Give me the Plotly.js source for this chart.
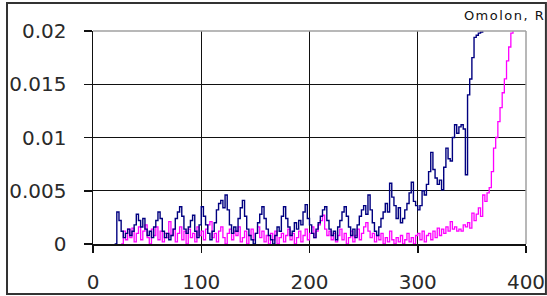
<!DOCTYPE html>
<html>
<head>
<meta charset="utf-8">
<script src="https://cdn.plot.ly/plotly-3.0.1.min.js"></script>
<style>
html,body{margin:0;padding:0;background:#fff;}
#chart{width:547px;height:296px;}
.gtitle{letter-spacing:1.5px;}
</style>
</head>
<body>
<div id="chart"></div>
<script>
// Sampling of the series along the x axis
const navyStartX = 20;
const magentaStartX = 26;
const sampleStep = 2;

// Navy series values (x = 20, 22, 24, ...)
const navyValues = [
  0.0000, 0.0030, 0.0022, 0.0012, 0.0006, 0.0010, 0.0014, 0.0008, 0.0012, 0.0018,
  0.0028, 0.0022, 0.0016, 0.0024, 0.0014, 0.0008, 0.0012, 0.0006, 0.0016, 0.0022,
  0.0030, 0.0024, 0.0012, 0.0006, 0.0010, 0.0004, 0.0008, 0.0014, 0.0024, 0.0030,
  0.0035, 0.0026, 0.0014, 0.0010, 0.0016, 0.0022, 0.0027, 0.0012, 0.0006, 0.0018,
  0.0035, 0.0026, 0.0018, 0.0010, 0.0004, 0.0012, 0.0020, 0.0032, 0.0038, 0.0041,
  0.0034, 0.0046, 0.0032, 0.0018, 0.0010, 0.0016, 0.0012, 0.0024, 0.0034, 0.0041,
  0.0026, 0.0014, 0.0008, 0.0004, 0.0000, 0.0010, 0.0020, 0.0028, 0.0035, 0.0024,
  0.0014, 0.0008, 0.0004, 0.0000, 0.0008, 0.0016, 0.0012, 0.0026, 0.0035, 0.0024,
  0.0016, 0.0008, 0.0012, 0.0020, 0.0014, 0.0022, 0.0018, 0.0030, 0.0037, 0.0024,
  0.0018, 0.0010, 0.0006, 0.0014, 0.0020, 0.0026, 0.0032, 0.0035, 0.0022, 0.0014,
  0.0008, 0.0012, 0.0004, 0.0016, 0.0022, 0.0030, 0.0035, 0.0026, 0.0016, 0.0008,
  0.0014, 0.0006, 0.0018, 0.0026, 0.0032, 0.0036, 0.0028, 0.0046, 0.0032, 0.0020,
  0.0012, 0.0008, 0.0016, 0.0024, 0.0030, 0.0038, 0.0030, 0.0057, 0.0044, 0.0036,
  0.0024, 0.0034, 0.0020, 0.0024, 0.0032, 0.0038, 0.0048, 0.0058, 0.0040, 0.0036,
  0.0032, 0.0036, 0.0050, 0.0046, 0.0056, 0.0068, 0.0086, 0.0070, 0.0062, 0.0056,
  0.0060, 0.0051, 0.0072, 0.0090, 0.0080, 0.0078, 0.0100, 0.0112, 0.0104, 0.0110,
  0.0112, 0.0108, 0.0065, 0.0140, 0.0155, 0.0175, 0.0194, 0.0196, 0.0198, 0.0199,
  0.0203, 0.0215, 0.0240
];

// Magenta series values (x = 26, 28, 30, ...)
const magentaValues = [
  0.0000, 0.0012, 0.0004, 0.0014, 0.0006, 0.0015, 0.0002, 0.0010, 0.0016, 0.0004,
  0.0012, 0.0018, 0.0006, 0.0000, 0.0014, 0.0008, 0.0016, 0.0004, 0.0012, 0.0002,
  0.0010, 0.0006, 0.0021, 0.0008, 0.0014, 0.0002, 0.0010, 0.0016, 0.0004, 0.0012,
  0.0000, 0.0014, 0.0006, 0.0010, 0.0002, 0.0016, 0.0008, 0.0012, 0.0004, 0.0014,
  0.0018, 0.0021, 0.0006, 0.0010, 0.0002, 0.0012, 0.0016, 0.0006, 0.0000, 0.0010,
  0.0014, 0.0004, 0.0012, 0.0008, 0.0016, 0.0002, 0.0006, 0.0012, 0.0000, 0.0008,
  0.0014, 0.0004, 0.0010, 0.0016, 0.0006, 0.0012, 0.0002, 0.0008, 0.0000, 0.0010,
  0.0004, 0.0012, 0.0000, 0.0006, 0.0010, 0.0002, 0.0008, 0.0014, 0.0004, 0.0010,
  0.0000, 0.0006, 0.0012, 0.0002, 0.0008, 0.0014, 0.0004, 0.0010, 0.0016, 0.0006,
  0.0012, 0.0018, 0.0022, 0.0027, 0.0014, 0.0008, 0.0012, 0.0004, 0.0010, 0.0002,
  0.0008, 0.0014, 0.0004, 0.0010, 0.0000, 0.0006, 0.0012, 0.0002, 0.0008, 0.0014,
  0.0004, 0.0010, 0.0016, 0.0020, 0.0012, 0.0006, 0.0010, 0.0002, 0.0008, 0.0004,
  0.0010, 0.0000, 0.0006, 0.0002, 0.0012, 0.0004, 0.0000, 0.0006, 0.0002, 0.0008,
  0.0000, 0.0004, 0.0010, 0.0002, 0.0006, 0.0000, 0.0008, 0.0010, 0.0004, 0.0012,
  0.0002, 0.0008, 0.0010, 0.0004, 0.0012, 0.0006, 0.0015, 0.0008, 0.0014, 0.0010,
  0.0016, 0.0012, 0.0021, 0.0014, 0.0016, 0.0012, 0.0014, 0.0012, 0.0018, 0.0016,
  0.0020, 0.0015, 0.0029, 0.0022, 0.0028, 0.0034, 0.0026, 0.0046, 0.0040, 0.0048,
  0.0053, 0.0068, 0.0090, 0.0100, 0.0115, 0.0128, 0.0142, 0.0155, 0.0172, 0.0185,
  0.0198, 0.0212, 0.0230
];

// Axis ticks
const xTickValues = [0, 100, 200, 300, 400];
const yTickValues = [0, 0.005, 0.01, 0.015, 0.02];
const yTickLabels = ['0', '0.005', '0.01', '0.015', '0.02'];
const chartTitle = 'Omolon, R';

const tickFont = {family: 'DejaVu Sans, sans-serif', size: 20, color: '#2a2a2a'};

const traces = [
  {
    type: 'scatter', mode: 'lines', name: 'magenta',
    x0: magentaStartX, dx: sampleStep, y: magentaValues,
    line: {color: '#ff00ff', width: 1.3, shape: 'hv'}, hoverinfo: 'skip'
  },
  {
    type: 'scatter', mode: 'lines', name: 'navy',
    x0: navyStartX, dx: sampleStep, y: navyValues,
    line: {color: '#000080', width: 1.4, shape: 'hv'}, hoverinfo: 'skip'
  }
];

const layout = {
  width: 547, height: 296,
  margin: {l: 93, r: 21, t: 31, b: 52, pad: 0},
  paper_bgcolor: '#ffffff', plot_bgcolor: '#ffffff',
  showlegend: false,
  title: {
    text: chartTitle,
    font: {family: 'DejaVu Sans, sans-serif', size: 13, color: '#111'},
    xref: 'container', yref: 'container',
    x: 0.997, xanchor: 'right', y: 0.948, yanchor: 'middle'
  },
  xaxis: {
    range: [0, 400], tickvals: xTickValues,
    showgrid: true, gridcolor: '#111', gridwidth: 1,
    showline: true, linecolor: '#111', linewidth: 1.5,
    zeroline: false,
    ticks: 'outside', ticklen: 7, tickcolor: '#111', tickwidth: 1.5,
    tickfont: tickFont, ticklabelstandoff: 12, automargin: false
  },
  yaxis: {
    range: [0, 0.02], tickvals: yTickValues, ticktext: yTickLabels,
    showgrid: true, gridcolor: '#111', gridwidth: 1,
    showline: true, linecolor: '#111', linewidth: 1.5,
    zeroline: false,
    ticks: 'outside', ticklen: 8, tickcolor: '#111', tickwidth: 1.5,
    tickfont: tickFont, ticklabelstandoff: 13, automargin: false
  },
  shapes: [
    {type: 'line', xref: 'paper', yref: 'paper', x0: 0, x1: 1, y0: 1, y1: 1,
     line: {color: '#a0a0a0', width: 1.5}, layer: 'above'},
    {type: 'line', xref: 'paper', yref: 'paper', x0: 1, x1: 1, y0: 0, y1: 1,
     line: {color: '#a0a0a0', width: 1.5}, layer: 'above'},
    {type: 'rect', xref: 'paper', yref: 'paper',
     x0: -0.1986, x1: 1.046, y0: -0.2347, y1: 1.1315,
     line: {color: '#333', width: 2}, layer: 'above'}
  ]
};

Plotly.newPlot('chart', traces, layout, {staticPlot: true, displayModeBar: false});
</script>
</body>
</html>
